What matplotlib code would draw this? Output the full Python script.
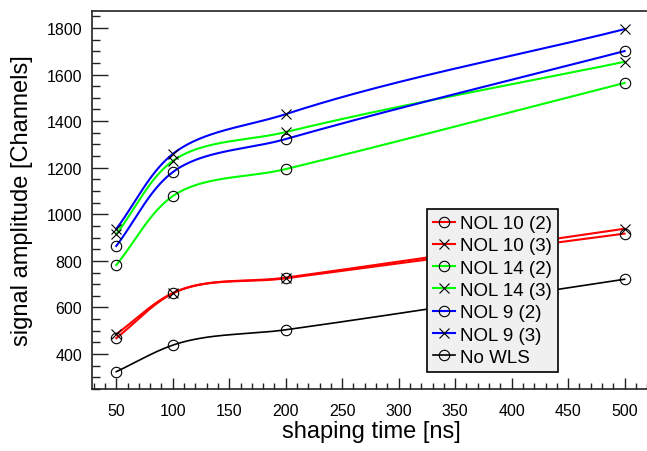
import numpy as np
import matplotlib
matplotlib.use("Agg")
import matplotlib.pyplot as plt
from matplotlib.lines import Line2D
from matplotlib.ticker import MultipleLocator

plt.rcParams['font.family'] = ['Liberation Sans', 'DejaVu Sans']

# ---- data ----
shaping_time = [50, 100, 200, 500]
nol10_2 = [468, 660, 725, 917]
nol10_3 = [485, 662, 728, 938]
nol14_2 = [782, 1078, 1194, 1564]
nol14_3 = [915, 1229, 1353, 1655]
nol9_2 = [864, 1181, 1323, 1701]
nol9_3 = [937, 1259, 1430, 1795]
no_wls = [324, 438, 504, 721]

series_labels = ["NOL 10 (2)", "NOL 10 (3)", "NOL 14 (2)", "NOL 14 (3)",
                 "NOL 9 (2)", "NOL 9 (3)", "No WLS"]
series_values = [nol10_2, nol10_3, nol14_2, nol14_3, nol9_2, nol9_3, no_wls]
series_colors = ["#ff0000", "#ff0000", "#00ff00", "#00ff00",
                 "#0000ff", "#0000ff", "#000000"]
series_markers = ["o", "x", "o", "x", "o", "x", "o"]
series_lw = [1.5, 1.5, 1.5, 1.5, 1.5, 1.5, 1.2]

W, H = 647, 452
fig = plt.figure(figsize=(W / 100, H / 100), dpi=100)
ax_l, ax_r, ax_t, ax_b = 92, 650, 12, 390
ax = fig.add_axes([ax_l / W, (H - ax_b) / H, (ax_r - ax_l) / W, (ax_b - ax_t) / H])
xmin, xmax = 28.5, 522.5
ymin, ymax = 249.7, 1873
ax.set_xlim(xmin, xmax)
ax.set_ylim(ymin, ymax)

# pixel scale factors (smooth parametric curve computed in display space)
sx = (ax_r - ax_l) / (xmax - xmin)
sy = (ax_b - ax_t) / (ymax - ymin)


def smooth(xs, ys, n=60):
    P = np.column_stack([np.asarray(xs, float) * sx, np.asarray(ys, float) * sy])
    seg = np.diff(P, axis=0)
    d = np.hypot(seg[:, 0], seg[:, 1])
    u = seg / d[:, None]
    m = np.zeros_like(P)
    m[0] = u[0]
    m[-1] = u[-1]
    for i in range(1, len(P) - 1):
        w = d[i - 1] + d[i]
        m[i] = u[i] * d[i - 1] / w + u[i - 1] * d[i] / w
    out = []
    s = np.linspace(0, 1, n)
    h00 = 2 * s ** 3 - 3 * s ** 2 + 1
    h10 = s ** 3 - 2 * s ** 2 + s
    h01 = -2 * s ** 3 + 3 * s ** 2
    h11 = s ** 3 - s ** 2
    for i in range(len(P) - 1):
        c = (h00[:, None] * P[i] + h10[:, None] * m[i] * d[i]
             + h01[:, None] * P[i + 1] + h11[:, None] * m[i + 1] * d[i])
        out.append(c if i == 0 else c[1:])
    C = np.vstack(out)
    return C[:, 0] / sx, C[:, 1] / sy


handles = []
for lab, vals, col, mk, lw in zip(series_labels, series_values, series_colors,
                                  series_markers, series_lw):
    cx, cy = smooth(shaping_time, vals)
    ax.plot(cx, cy, color=col, lw=lw, zorder=2)
    ax.plot(shaping_time, vals, ls='none', marker=mk, ms=7.5, mfc='none',
            mec='black', mew=0.8, zorder=3)
    handles.append(Line2D([], [], color=col, lw=lw, marker=mk, ms=7.5,
                          mfc='none', mec='black', mew=0.8, label=lab))

# axes styling (ROOT-like)
for s in ['left', 'bottom', 'top']:
    ax.spines[s].set_linewidth(1.2)
    ax.spines[s].set_color('#222222')
ax.spines['right'].set_visible(False)

ax.xaxis.set_major_locator(MultipleLocator(50))
ax.xaxis.set_minor_locator(MultipleLocator(10))
ax.yaxis.set_major_locator(MultipleLocator(200))
ax.yaxis.set_minor_locator(MultipleLocator(50))
ax.tick_params(axis='both', which='both', direction='in', colors='#222222',
               labelcolor='black', labelsize=11.5, top=False, right=False)
ax.tick_params(axis='y', which='major', length=11.5, width=1.0, pad=7)
ax.tick_params(axis='y', which='minor', length=5.8, width=1.0)
ax.tick_params(axis='x', which='major', length=8, width=1.0, pad=10)
ax.tick_params(axis='x', which='minor', length=4, width=1.0)

ax.set_xlabel("shaping time [ns]", fontsize=17)
ax.set_ylabel("signal amplitude [Channels]", fontsize=17)
ax.xaxis.set_label_coords(0.5, (ax_b - 432) / (ax_b - ax_t), transform=ax.transAxes)
ax.xaxis.label.set_va('center')
ax.yaxis.set_label_coords((22 - ax_l) / (ax_r - ax_l), 0.5, transform=ax.transAxes)
ax.yaxis.label.set_va('center')

leg = ax.legend(handles=handles, loc='upper left',
                bbox_to_anchor=((427 - ax_l) / (ax_r - ax_l), (ax_b - 210) / (ax_b - ax_t)),
                fontsize=13.5, frameon=True, fancybox=False, framealpha=1,
                facecolor='#f0f0f0', edgecolor='black', borderaxespad=0,
                borderpad=0.32, labelspacing=0.275, handlelength=1.16,
                handletextpad=0.28)
leg.get_frame().set_linewidth(1.2)

fig.savefig("out.png", dpi=100)
